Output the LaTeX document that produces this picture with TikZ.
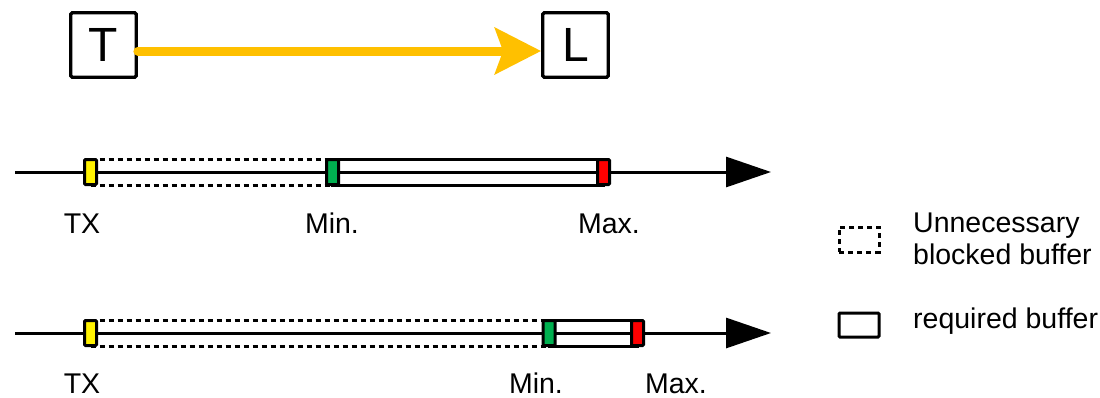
\documentclass[tikz,border=0pt]{standalone}
\usepackage{fontspec}
\setmainfont{Liberation Sans}
\usetikzlibrary{arrows.meta}
\definecolor{flow}{HTML}{FFC000}
\definecolor{mingreen}{HTML}{00B050}
\begin{document}
\begin{tikzpicture}[x=1pt,y=-1pt,
  endpoint/.style={draw, line width=3.3pt, rounded corners=1.5pt, inner sep=0pt,
    minimum width=65.5pt, minimum height=64.5pt, font=\fontsize{48}{56}\selectfont},
  axis/.style={line width=3pt, -{Triangle[length=45pt,width=30pt]}},
  marker/.style={draw, line width=3pt, rounded corners=1pt, inner sep=0pt,
    minimum width=12pt, minimum height=25pt},
  reqbuf/.style={draw, line width=3pt},
  spare/.style={line width=3pt, dash pattern=on 5pt off 4pt},
  lbl/.style={anchor=base, inner sep=0pt, font=\fontsize{28.5}{34}\selectfont},
  legtxt/.style={anchor=base west, inner sep=0pt, font=\fontsize{28.5}{34}\selectfont}
]
\useasboundingbox (0,0) rectangle (1100,397);

% sender and receiver
\node[endpoint] (T) at (103.5,45) {T};
\node[endpoint] (L) at (575.5,45) {L};
\draw[flow, line width=9pt, line cap=round,
  -{Stealth[length=46pt,width=46pt,inset=8pt]}]
  ([yshift=-6pt]T.east) -- ([yshift=-6pt]L.west);

% first timeline
\coordinate (a1) at (15,172);
\coordinate (e1) at (771,172);
\draw[axis] (a1) -- (e1);
\coordinate (tx1) at (90.5,172);
\coordinate (mn1) at (332.5,172);
\coordinate (mx1) at (603.5,172);
\draw[spare] ([yshift=-13pt]tx1) -- ([yshift=-13pt]mn1);
\draw[spare] ([yshift=13pt]tx1) -- ([yshift=13pt]mn1);
\draw[reqbuf] ([yshift=-13pt]mn1) rectangle ([yshift=13pt]mx1);
\node[marker, fill=yellow] (y1) at (tx1) {};
\node[marker, fill=mingreen] (g1) at (mn1) {};
\node[marker, fill=red] (r1) at (mx1) {};
\node[lbl] (ltx1) at (82,233) {TX};
\node[lbl] (lmn1) at (332,233) {Min.};
\node[lbl] (lmx1) at (609,233) {Max.};

% second timeline
\coordinate (a2) at (15,333);
\coordinate (e2) at (771,333);
\draw[axis] (a2) -- (e2);
\coordinate (tx2) at (90.5,333);
\coordinate (mn2) at (549,333);
\coordinate (mx2) at (637.5,333);
\draw[spare] ([yshift=-13pt]tx2) -- ([yshift=-13pt]mn2);
\draw[spare] ([yshift=13pt]tx2) -- ([yshift=13pt]mn2);
\draw[reqbuf] ([yshift=-13pt]mn2) rectangle ([yshift=13pt]mx2);
\node[marker, fill=yellow] (y2) at (tx2) {};
\node[marker, fill=mingreen] (g2) at (mn2) {};
\node[marker, fill=red] (r2) at (mx2) {};
\node[lbl] (ltx2) at (82,393) {TX};
\node[lbl] (lmn2) at (536,393) {Min.};
\node[lbl] (lmx2) at (676,393) {Max.};

% legend
\node[draw, spare, inner sep=0pt, minimum width=40pt, minimum height=25pt] (k1) at (859,239.5) {};
\node[reqbuf, inner sep=0pt, rounded corners=1pt, minimum width=40pt, minimum height=24pt] (k2) at (859,325) {};
\node[legtxt] (k1a) at (913,232) {Unnecessary};
\node[legtxt] (k1b) at (913,264) {blocked buffer};
\node[legtxt] (k2a) at (913,328) {required buffer};
\end{tikzpicture}
\end{document}
